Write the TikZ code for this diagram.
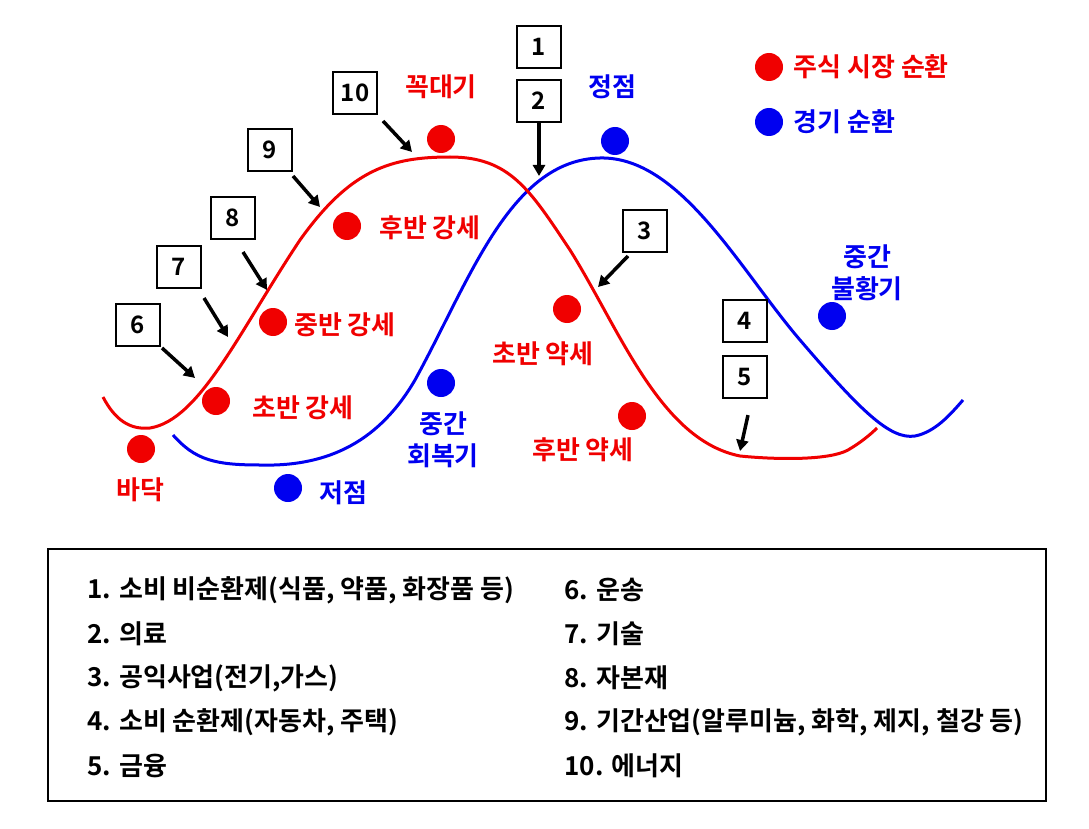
\documentclass[tikz,border=0pt]{standalone}
\usepackage{fontspec}
\usetikzlibrary{arrows.meta}
\setmainfont{Noto Sans CJK KR}[BoldFont={Noto Sans CJK KR Bold}]
\definecolor{rd}{RGB}{240,0,0}
\definecolor{bl}{RGB}{0,0,240}
\begin{document}
\begin{tikzpicture}[x=1pt,y=-1pt,
 numbox/.style={draw,line width=2.2pt,minimum width=44pt,minimum height=42pt,inner sep=0,font=\bfseries\fontsize{24}{26}\selectfont},
 rdot/.style={circle,fill=rd,minimum size=28pt,inner sep=0},
 bdot/.style={circle,fill=bl,minimum size=28pt,inner sep=0},
 rl/.style={text=rd,font=\bfseries\fontsize{26}{32}\selectfont,align=center},
 blb/.style={text=bl,font=\bfseries\fontsize{26}{32}\selectfont,align=center},
 arr/.style={-{Triangle[length=11pt,width=12pt]},line width=3.5pt},
 it/.style={anchor=west,font=\bfseries\fontsize{26}{30}\selectfont}]
\useasboundingbox (0,0) rectangle (1089,829);
% curves
\draw[bl,line width=3pt] (173,435) .. controls (195,460) and (215,465) .. (260,465) .. controls (330,467) and (380,440) .. (415,380) .. controls (470,280) and (510,160) .. (600,158) .. controls (680,156) and (740,270) .. (800,340) .. controls (860,410) and (890,440) .. (915,436) .. controls (935,432) and (950,415) .. (963,400);
\draw[rd,line width=3pt] (103,397) .. controls (115,420) and (130,430) .. (150,428) .. controls (200,420) and (240,330) .. (300,240) .. controls (350,170) and (390,157) .. (450,157) .. controls (510,157) and (530,190) .. (570,250) .. controls (620,330) and (660,440) .. (740,456) .. controls (780,460) and (830,460) .. (848,450) .. controls (860,443) and (870,435) .. (877,428);
% dots
\node[rdot] (d1) at (141,449) {};
\node[rdot] (d2) at (216,401) {};
\node[rdot] (d3) at (273,322) {};
\node[rdot] (d4) at (347,226) {};
\node[rdot] (d5) at (441,139) {};
\node[rdot] (d6) at (567,309) {};
\node[rdot] (d7) at (632,416) {};
\node[rdot] (d8) at (769,67) {};
\node[bdot] (e1) at (288,488) {};
\node[bdot] (e2) at (441,383) {};
\node[bdot] (e3) at (615,141) {};
\node[bdot] (e4) at (832,316) {};
\node[bdot] (e5) at (769,122) {};
% labels
\node[rl] (l1) at (441,87) {꼭대기};
\node[rl] (l2) at (430,228) {후반 강세};
\node[rl] (l3) at (345,325) {중반 강세};
\node[rl] (l4) at (303,408) {초반 강세};
\node[rl] (l5) at (140,490) {바닥};
\node[rl] (l6) at (543,354) {초반 약세};
\node[rl] (l7) at (583,450) {후반 약세};
\node[blb] (m1) at (612,87) {정점};
\node[blb] (m2) at (867,273) {중간\\불황기};
\node[blb] (m3) at (443,440) {중간\\회복기};
\node[blb] (m4) at (343,493) {저점};
\node[rl,anchor=west] (lg1) at (790,67) {주식 시장 순환};
\node[blb,anchor=west] (lg2) at (790,122) {경기 순환};
% number boxes
\node[numbox] (b10) at (355,93) {10};
\node[numbox] (b9) at (270,150) {9};
\node[numbox] (b8) at (233,218) {8};
\node[numbox] (b7) at (179,267) {7};
\node[numbox] (b6) at (138,325) {6};
\node[numbox] (b1) at (539,47) {1};
\node[numbox] (b2) at (539,101) {2};
\node[numbox] (b3) at (645,231) {3};
\node[numbox] (b4) at (745,321) {4};
\node[numbox] (b5) at (745,377) {5};
\coordinate (t10) at (412,152); \coordinate (t9) at (320,207);
\coordinate (t8) at (267,290); \coordinate (t7) at (228,337);
\coordinate (t6) at (195,378); \coordinate (t2) at (539,176);
\coordinate (t3) at (598,287); \coordinate (t5) at (740,451);
\draw[arr] (383,121) -- (t10);
\draw[arr] (293,176) -- (t9);
\draw[arr] (243,252) -- (t8);
\draw[arr] (204,298) -- (t7);
\draw[arr] (162,348) -- (t6);
\draw[arr] (b2.south) -- (t2);
\draw[arr] (628,256) -- (t3);
\draw[arr] (b5.south) ++(3,16) -- (t5);
% legend box
\node[draw,line width=2pt,minimum width=998pt,minimum height=252pt,anchor=north west] (lb) at (47,548) {};
\node[it] (i1) at (84,590) {1. 소비 비순환제(식품, 약품, 화장품 등)};
\node[it] (i2) at (84,634) {2. 의료};
\node[it] (i3) at (84,678) {3. 공익사업(전기,가스)};
\node[it] (i4) at (84,722) {4. 소비 순환제(자동차, 주택)};
\node[it] (i5) at (84,766) {5. 금융};
\node[it] (i6) at (561,590) {6. 운송};
\node[it] (i7) at (561,634) {7. 기술};
\node[it] (i8) at (561,678) {8. 자본재};
\node[it] (i9) at (561,722) {9. 기간산업(알루미늄, 화학, 제지, 철강 등)};
\node[it] (i10) at (561,766) {10. 에너지};
\end{tikzpicture}
\end{document}
